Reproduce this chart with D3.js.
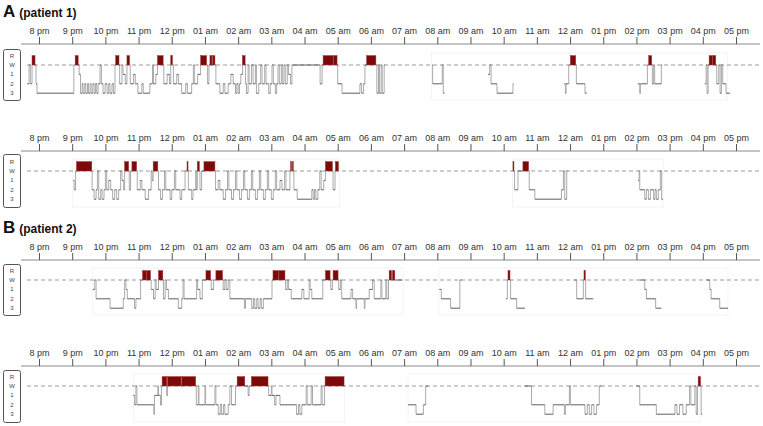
<!DOCTYPE html>
<html><head><meta charset="utf-8">
<script src="https://cdn.jsdelivr.net/npm/d3@7"></script>
<style>body{margin:0;background:#fff}svg{display:block}</style>
</head><body>
<script>
// ---------- DATA ----------
const hourLabels = ["8 pm","9 pm","10 pm","11 pm","12 pm","01 am","02 am","03 am","04 am","05 am","06 am","07 am","08 am","09 am","10 am","11 am","12 am","01 pm","02 pm","03 pm","04 pm","05 pm"];
const stages = ["R","W","1","2","3"];
const panelTitles = [["A","(patient 1)"], null, ["B","(patient 2)"], null];

// hypnograms: [hours after 8 pm, stage]; null = no recording
const hypnoA1 = [[-0.36,"2"],[-0.30,"W"],[-0.26,"2"],[-0.21,"R"],[-0.12,"W"],[-0.09,"2"],[-0.06,"3"],[1.05,"W"],[1.09,"R"],[1.18,"W"],[1.21,"1"],[1.25,"3"],[1.30,"2"],[1.33,"3"],[1.38,"2"],[1.41,"3"],[1.46,"2"],[1.49,"3"],[1.54,"2"],[1.57,"3"],[1.62,"2"],[1.66,"3"],[1.70,"2"],[1.74,"3"],[1.78,"2"],[1.84,"W"],[1.88,"2"],[1.93,"3"],[1.99,"2"],[2.05,"3"],[2.10,"2"],[2.14,"3"],[2.20,"2"],[2.24,"3"],[2.29,"W"],[2.31,"R"],[2.41,"W"],[2.43,"2"],[2.50,"W"],[2.53,"1"],[2.60,"2"],[2.65,"R"],[2.73,"W"],[2.75,"2"],[2.85,"1"],[2.90,"2"],[2.98,"3"],[3.10,"2"],[3.14,"3"],[3.34,"2"],[3.42,"W"],[3.45,"2"],[3.52,"1"],[3.57,"R"],[3.74,"W"],[3.76,"2"],[3.86,"1"],[3.93,"2"],[3.97,"R"],[4.02,"W"],[4.05,"2"],[4.15,"1"],[4.20,"2"],[4.30,"3"],[4.42,"2"],[4.47,"3"],[4.60,"2"],[4.65,"W"],[4.68,"2"],[4.78,"1"],[4.87,"R"],[5.05,"W"],[5.08,"2"],[5.12,"W"],[5.15,"R"],[5.21,"W"],[5.23,"R"],[5.30,"W"],[5.33,"2"],[5.45,"3"],[5.55,"2"],[5.60,"3"],[5.70,"2"],[5.78,"1"],[5.85,"2"],[5.92,"3"],[5.96,"2"],[6.00,"3"],[6.04,"2"],[6.08,"1"],[6.13,"R"],[6.21,"W"],[6.22,"2"],[6.25,"3"],[6.30,"W"],[6.33,"2"],[6.40,"W"],[6.45,"2"],[6.52,"W"],[6.55,"3"],[6.62,"2"],[6.68,"W"],[6.72,"2"],[6.80,"W"],[6.84,"2"],[6.92,"3"],[6.97,"2"],[7.02,"W"],[7.06,"2"],[7.12,"3"],[7.16,"2"],[7.20,"W"],[7.24,"2"],[7.30,"W"],[7.33,"2"],[7.38,"W"],[7.42,"2"],[7.48,"W"],[7.52,"1"],[7.58,"2"],[7.62,"W"],[8.47,"2"],[8.53,"W"],[8.56,"R"],[8.86,"W"],[8.87,"R"],[8.98,"W"],[9.00,"2"],[9.13,"3"],[9.67,"2"],[9.72,"3"],[9.78,"2"],[9.82,"W"],[9.87,"R"],[10.15,"W"],[10.18,"3"],[10.23,"W"],[10.26,"3"],[10.31,"W"],[10.34,"3"],[10.40,"W"],[10.42,null],[11.84,"W"],[11.86,"2"],[12.15,"W"],[12.18,"3"],[12.22,null],[13.53,"1"],[13.58,"W"],[13.62,"2"],[13.80,"3"],[14.28,"2"],[14.30,null],[15.82,"2"],[15.86,"3"],[15.88,"2"],[15.96,"W"],[16.01,"R"],[16.17,"W"],[16.19,"2"],[16.45,"3"],[16.50,null],[18.04,"2"],[18.10,"3"],[18.12,"2"],[18.33,"W"],[18.37,"R"],[18.46,"W"],[18.48,"2"],[18.52,"W"],[18.55,"2"],[18.75,"W"],[18.78,null],[20.06,"2"],[20.10,"W"],[20.13,"3"],[20.16,"W"],[20.19,"R"],[20.29,"W"],[20.30,"R"],[20.39,"W"],[20.42,"2"],[20.48,"W"],[20.52,"3"],[20.56,"W"],[20.60,"2"],[20.70,"3"],[20.82,null]];

const hypnoA2 = [[1.03,"1"],[1.06,"2"],[1.10,"W"],[1.13,"R"],[1.59,"W"],[1.60,"2"],[1.66,"3"],[1.72,"2"],[1.76,"W"],[1.80,"3"],[1.86,"2"],[1.90,"3"],[1.96,"2"],[2.00,"W"],[2.04,"2"],[2.10,"1"],[2.16,"2"],[2.22,"3"],[2.28,"2"],[2.34,"3"],[2.40,"2"],[2.46,"W"],[2.50,"1"],[2.55,"2"],[2.58,"R"],[2.70,"W"],[2.72,"2"],[2.76,"W"],[2.80,"R"],[2.94,"W"],[2.96,"2"],[3.05,"1"],[3.10,"2"],[3.20,"3"],[3.30,"2"],[3.38,"W"],[3.41,"1"],[3.44,"R"],[3.58,"W"],[3.60,"2"],[3.66,"3"],[3.72,"2"],[3.78,"W"],[3.82,"2"],[3.95,"3"],[4.00,"2"],[4.08,"W"],[4.12,"2"],[4.25,"3"],[4.30,"2"],[4.40,"W"],[4.46,"R"],[4.49,"W"],[4.50,"2"],[4.60,"3"],[4.64,"2"],[4.72,"W"],[4.74,"2"],[4.77,"R"],[4.83,"W"],[4.85,"2"],[4.90,"W"],[4.97,"R"],[5.30,"W"],[5.32,"2"],[5.40,"1"],[5.45,"2"],[5.55,"3"],[5.62,"2"],[5.68,"W"],[5.72,"2"],[5.80,"3"],[5.86,"2"],[5.92,"W"],[5.96,"2"],[6.04,"3"],[6.10,"2"],[6.16,"W"],[6.20,"2"],[6.28,"3"],[6.34,"2"],[6.40,"W"],[6.44,"2"],[6.52,"3"],[6.58,"2"],[6.64,"W"],[6.68,"2"],[6.76,"3"],[6.82,"2"],[6.88,"W"],[6.92,"2"],[7.00,"3"],[7.06,"2"],[7.12,"W"],[7.16,"2"],[7.26,"1"],[7.32,"2"],[7.40,"W"],[7.44,"2"],[7.56,"W"],[7.58,"R"],[7.61,"W"],[7.63,"R"],[7.66,"W"],[7.68,"2"],[7.78,"3"],[8.22,"2"],[8.26,"3"],[8.30,"2"],[8.34,"3"],[8.40,"2"],[8.46,"W"],[8.50,"2"],[8.58,"1"],[8.63,"R"],[8.84,"W"],[8.86,"2"],[8.92,"W"],[8.93,"R"],[9.02,"W"],[9.03,null],[14.28,"R"],[14.30,"W"],[14.33,"2"],[14.43,"W"],[14.58,"R"],[14.75,"W"],[14.77,"2"],[14.94,"3"],[15.74,"2"],[15.80,"W"],[15.84,"3"],[15.90,"W"],[15.92,null],[18.05,"1"],[18.08,"W"],[18.10,"2"],[18.25,"3"],[18.30,"2"],[18.36,"3"],[18.42,"2"],[18.52,"3"],[18.56,"2"],[18.60,"3"],[18.66,"2"],[18.72,"W"],[18.76,"3"],[18.80,null]];

const hypnoB1 = [[1.62,"1"],[1.68,"W"],[1.72,"2"],[2.14,"3"],[2.54,"2"],[2.58,"W"],[2.62,"1"],[2.66,"2"],[2.88,"3"],[2.92,"2"],[3.06,"W"],[3.12,"R"],[3.24,"W"],[3.25,"R"],[3.36,"W"],[3.38,"1"],[3.45,"2"],[3.50,"W"],[3.53,"1"],[3.60,"R"],[3.73,"W"],[3.75,"2"],[3.80,"W"],[3.84,"1"],[3.90,"2"],[4.20,"3"],[4.30,"2"],[4.34,"W"],[4.37,"2"],[4.75,"W"],[4.78,"1"],[4.85,"2"],[4.92,"W"],[5.03,"R"],[5.17,"W"],[5.19,"1"],[5.26,"W"],[5.33,"R"],[5.53,"W"],[5.55,"1"],[5.60,"W"],[5.64,"1"],[5.70,"W"],[5.75,"2"],[6.19,"3"],[6.22,"2"],[6.41,"3"],[6.46,"2"],[6.50,"3"],[6.56,"2"],[6.60,"3"],[6.66,"2"],[6.70,"3"],[6.76,"2"],[7.02,"W"],[7.05,"R"],[7.22,"W"],[7.23,"R"],[7.41,"W"],[7.43,"1"],[7.48,"W"],[7.52,"1"],[7.60,"2"],[7.92,"1"],[7.98,"2"],[8.14,"W"],[8.17,"1"],[8.22,"2"],[8.55,"W"],[8.63,"R"],[8.77,"W"],[8.79,"1"],[8.84,"W"],[8.86,"R"],[9.01,"W"],[9.03,"1"],[9.08,"W"],[9.12,"2"],[9.40,"1"],[9.45,"2"],[9.55,"3"],[9.57,"2"],[9.80,"3"],[9.82,"2"],[9.95,"1"],[10.05,"W"],[10.10,"2"],[10.30,"W"],[10.33,"2"],[10.45,"W"],[10.48,"2"],[10.53,"W"],[10.55,"R"],[10.62,"W"],[10.65,"R"],[10.72,"W"],[10.95,null],[12.06,"1"],[12.12,"2"],[12.40,"3"],[12.68,"W"],[12.73,null],[14.07,"2"],[14.11,"W"],[14.13,"R"],[14.19,"W"],[14.21,"2"],[14.39,"3"],[14.64,null],[16.14,"W"],[16.20,"2"],[16.40,"W"],[16.42,"R"],[16.46,"W"],[16.47,"2"],[16.70,null],[18.10,"W"],[18.25,"1"],[18.30,"2"],[18.58,"3"],[18.75,null],[20.11,"W"],[20.21,"1"],[20.25,"2"],[20.51,"3"],[20.76,null]];

const hypnoB2 = [[2.84,"1"],[2.88,"2"],[2.92,"W"],[2.95,"2"],[3.46,"3"],[3.48,"1"],[3.58,"W"],[3.60,"1"],[3.66,"2"],[3.69,"W"],[3.71,"R"],[3.85,"1"],[3.87,"R"],[4.28,"W"],[4.30,"R"],[4.72,"W"],[4.74,"2"],[4.80,"W"],[4.82,"2"],[5.00,"W"],[5.02,"2"],[5.30,"W"],[5.33,"2"],[5.40,"3"],[5.46,"2"],[5.50,"3"],[5.56,"2"],[5.60,"3"],[5.70,"2"],[5.75,"W"],[5.80,"2"],[5.92,"W"],[5.97,"R"],[6.20,"W"],[6.30,"1"],[6.33,"W"],[6.40,"R"],[6.90,"W"],[6.92,"1"],[7.00,"W"],[7.02,"1"],[7.10,"2"],[7.14,"1"],[7.26,"2"],[7.76,"3"],[7.82,"2"],[7.86,"3"],[7.92,"2"],[8.05,"W"],[8.08,"2"],[8.20,"W"],[8.24,"2"],[8.50,"W"],[8.53,"2"],[8.60,"W"],[8.62,"R"],[9.19,"W"],[9.20,null],[11.12,"2"],[11.36,"3"],[11.58,"2"],[11.65,"W"],[11.72,null],[14.64,"W"],[14.84,"2"],[15.24,"3"],[15.49,"2"],[15.83,"3"],[15.86,"2"],[15.98,"W"],[16.01,"2"],[16.45,"3"],[16.52,"2"],[16.58,"3"],[16.65,"2"],[16.72,"3"],[16.80,"2"],[16.88,"W"],[16.95,null],[18.00,"W"],[18.10,"2"],[18.60,"3"],[19.16,"2"],[19.22,"3"],[19.30,"2"],[19.40,"3"],[19.50,"2"],[19.60,"W"],[19.64,"2"],[19.76,"W"],[19.80,"3"],[19.84,"W"],[19.86,"R"],[19.93,"W"],[19.95,"3"],[19.98,null]];

// recording windows (faint frames) per panel, hours
const framesA1 = [[11.83, 20.75]];
const framesA2 = [[1.02, 9.05],[14.27, 18.80]];
const framesB1 = [[1.62, 10.97],[12.05, 20.76]];
const framesB2 = [[2.84, 9.20],[11.12, 19.92]];

// ---------- LAYOUT ----------
const W = 763, H = 426;
const panels = [
  {axisY:44,  wY:65,  boxTop:49,  boxBot:100, data:hypnoA1, frames:framesA1},
  {axisY:151, wY:171, boxTop:154, boxBot:207, data:hypnoA2, frames:framesA2},
  {axisY:260, wY:280, boxTop:264, boxBot:315, data:hypnoB1, frames:framesB1},
  {axisY:366, wY:386, boxTop:370, boxBot:422, data:hypnoB2, frames:framesB2}
];
const titleY = [17, null, 233, null];

const svg = d3.select("body").append("svg").attr("width",W).attr("height",H)
  .style("font-family","'Liberation Sans', Arial, sans-serif");

const x = d3.scaleLinear().domain([0,21]).range([39,736]);
const stageStep = 9.4;

panels.forEach((p,pi)=>{
  const g = svg.append("g");
  if (panelTitles[pi]) {
    const t = g.append("text").attr("x",3).attr("y",titleY[pi]).attr("fill","#111").attr("font-weight","bold");
    t.append("tspan").attr("font-size",17).text(panelTitles[pi][0]);
    t.append("tspan").attr("font-size",12).attr("dx",4).text(panelTitles[pi][1]);
  }
  g.append("line").attr("x1",21).attr("x2",760).attr("y1",p.axisY).attr("y2",p.axisY)
    .attr("stroke","#8a8a8a").attr("stroke-width",1);
  const axis = d3.axisTop(x).tickValues(d3.range(0,22)).tickFormat(i=>hourLabels[i])
    .tickSize(7).tickPadding(3);
  const ag = g.append("g").attr("transform",`translate(0,${p.axisY})`).call(axis);
  ag.select(".domain").remove();
  ag.selectAll(".tick line").attr("stroke","#555");
  ag.selectAll(".tick text").attr("fill","#333").attr("font-size",9).attr("font-family","'Liberation Sans', Arial, sans-serif");

  const y = d3.scalePoint().domain(stages).range([p.wY - stageStep, p.wY + 3*stageStep]);
  const yl = s => s === "R" ? y("W") : y(s);

  g.append("rect").attr("x",3.5).attr("y",p.boxTop+0.5).attr("width",17).attr("height",p.boxBot-p.boxTop)
    .attr("rx",2).attr("fill","none").attr("stroke","#555").attr("stroke-width",1);
  g.selectAll(".sl").data(stages).enter().append("text")
    .attr("x",12).attr("y",s=>y(s)+2).attr("text-anchor","middle")
    .attr("font-size",6).attr("fill","#444").text(s=>s);

  p.frames.forEach(f=>{
    g.append("rect").attr("x",x(f[0])).attr("y",y("R")-2.5).attr("width",x(f[1])-x(f[0]))
      .attr("height",p.boxBot - (y("R")-2.5)).attr("fill","none").attr("stroke","#f3f3f3").attr("stroke-width",1);
  });

  g.append("line").attr("x1",27).attr("x2",760).attr("y1",y("W")).attr("y2",y("W"))
    .attr("stroke","#9a9a9a").attr("stroke-dasharray","4,3").attr("stroke-width",1);

  const d = p.data;
  const segs = [];
  for (let i=0;i<d.length-1;i++) segs.push({t0:d[i][0], t1:d[i+1][0], s:d[i][1], n:d[i+1][1]});

  g.selectAll(".v").data(segs.filter(s=>s.s!==null && s.n!==null)).enter().append("line")
    .attr("x1",s=>x(s.t1)).attr("x2",s=>x(s.t1))
    .attr("y1",s=>yl(s.s)).attr("y2",s=>yl(s.n))
    .attr("stroke","#ababab").attr("stroke-width",1);
  g.selectAll(".h").data(segs.filter(s=>s.s!==null && s.s!=="R")).enter().append("line")
    .attr("x1",s=>x(s.t0)).attr("x2",s=>x(s.t1))
    .attr("y1",s=>y(s.s)).attr("y2",s=>y(s.s))
    .attr("stroke","#5e5e5e").attr("stroke-width",1);
  g.selectAll(".r").data(segs.filter(s=>s.s==="R")).enter().append("rect")
    .attr("x",s=>x(s.t0)).attr("width",s=>Math.max(1,x(s.t1)-x(s.t0)))
    .attr("y",y("R")).attr("height",y("W")-y("R"))
    .attr("fill","#7c0a0a").attr("stroke","#a03030").attr("stroke-width",0.5);
});
</script>
</body></html>
